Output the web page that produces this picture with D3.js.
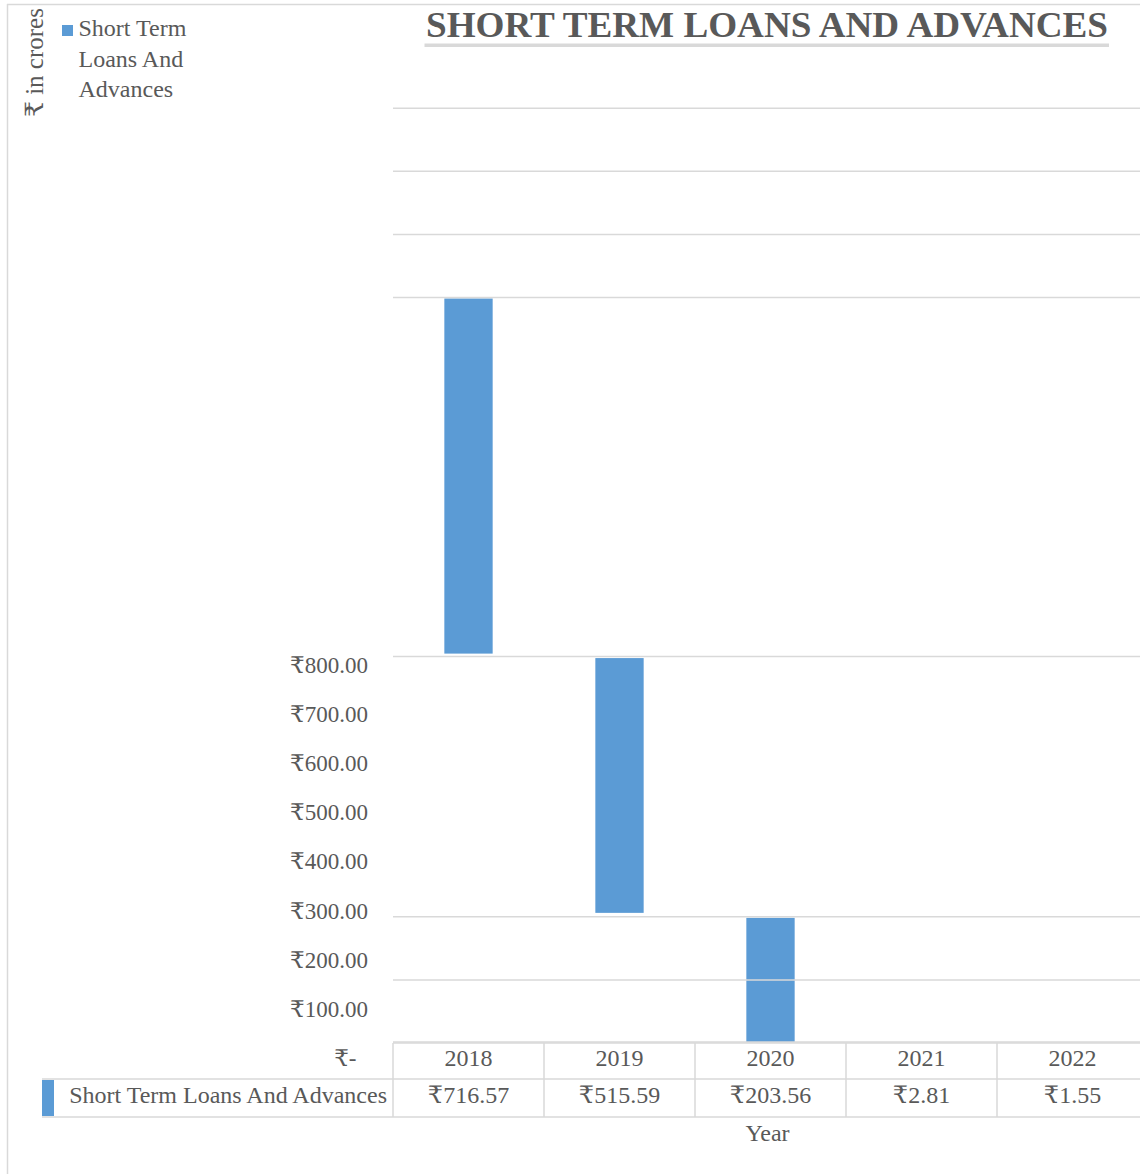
<!DOCTYPE html>
<html>
<head>
<meta charset="utf-8">
<script src="https://cdn.jsdelivr.net/npm/d3@7"></script>
<style>
	body { margin: 0; background: #fff; }
	svg { display: block; font-family: "Liberation Serif", "Times New Roman", "DejaVu Serif", serif; }
	.lbl { fill: #595959; font-size: 24px; }
	.grid, .cell { stroke: #d9d9d9; stroke-width: 1.5; }
</style>
</head>
<body>
<svg id="chart" width="1140" height="1174"></svg>
<script>
var years = ["2018", "2019", "2020", "2021", "2022"];
var values = [716.57, 515.59, 203.56, 2.81, 1.55];
var seriesName = "Short Term Loans And Advances";
// where each bar sits in the picture, in plot units (2021/2022 not visible)
var barLow = [782, 260, 0, null, null];
var barHigh = [1497, 773, 250, null, null];
// gridlines, plot units
var gridAt = [0, 125, 252, 776, 1499, 1626, 1753, 1880];
var tickValues = [0, 100, 200, 300, 400, 500, 600, 700, 800];

var barColor = "#5b9bd5";
var svg = d3.select("#chart");

// columns of the data table, bars centered in them
var col = d3.scaleBand().domain(years).range([393, 1148]);
var bw = col.bandwidth() * 0.32;
var y = d3.scaleLinear().domain([0, 1500]).range([1042, 297]);
var yTick = d3.scaleLinear().domain([0, 800]).range([1058, 665]);

var fmt = function(v) {
	return v === 0 ? "₹-\u00a0\u00a0" : "₹" + d3.format(",.2f")(v);
};

// outer frame
svg.append("line").attr("class", "cell")
	.attr("x1", 7).attr("x2", 1140).attr("y1", 4.5).attr("y2", 4.5);
svg.append("line").attr("class", "cell")
	.attr("x1", 7.5).attr("x2", 7.5).attr("y1", 4).attr("y2", 1174);

// bars
var rows = years.map(function(yr, i) {
	return {year: yr, value: values[i], low: barLow[i], high: barHigh[i]};
});
svg.append("g")
	.selectAll("rect")
	.data(rows.filter(function(d) { return d.low !== null; }))
	.enter().append("rect")
	.attr("x", function(d) { return col(d.year) + (col.bandwidth() - bw) / 2; })
	.attr("y", function(d) { return y(d.high); })
	.attr("width", bw)
	.attr("height", function(d) { return y(d.low) - y(d.high); })
	.attr("fill", barColor);

// gridlines over the bars
svg.append("g")
	.selectAll("line")
	.data(gridAt)
	.enter().append("line")
	.attr("class", "grid")
	.attr("x1", 393).attr("x2", 1140)
	.attr("y1", function(d) { return y(d); })
	.attr("y2", function(d) { return y(d); });

// value axis labels
var ax = svg.append("g")
	.attr("transform", "translate(368,0)")
	.call(d3.axisLeft(yTick).tickValues(tickValues).tickSize(0).tickPadding(0).tickFormat(fmt));
ax.attr("font-family", null).attr("font-size", null);
ax.select(".domain").remove();
ax.selectAll("text").attr("class", "lbl").style("font-size", "23px").attr("fill", "#595959");

// data table
var tTop = 1043, tMid = 1079, tBot = 1117, tRight = col.range()[1];
var tbl = svg.append("g");
tbl.append("line").attr("class", "cell").attr("x1", 393).attr("x2", tRight).attr("y1", tTop).attr("y2", tTop);
tbl.append("line").attr("class", "cell").attr("x1", 42).attr("x2", tRight).attr("y1", tMid).attr("y2", tMid);
tbl.append("line").attr("class", "cell").attr("x1", 42).attr("x2", tRight).attr("y1", tBot).attr("y2", tBot);
tbl.selectAll(".vline")
	.data(years)
	.enter().append("line")
	.attr("class", "cell vline")
	.attr("x1", function(d) { return col(d); })
	.attr("x2", function(d) { return col(d); })
	.attr("y1", tTop).attr("y2", tBot);

tbl.selectAll(".yr")
	.data(rows)
	.enter().append("text")
	.attr("class", "lbl yr")
	.attr("x", function(d) { return col(d.year) + col.bandwidth() / 2; })
	.attr("y", 1066)
	.attr("text-anchor", "middle")
	.text(function(d) { return d.year; });

tbl.selectAll(".val")
	.data(rows)
	.enter().append("text")
	.attr("class", "lbl val")
	.attr("x", function(d) { return col(d.year) + col.bandwidth() / 2; })
	.attr("y", 1103)
	.attr("text-anchor", "middle")
	.text(function(d) { return fmt(d.value); });

tbl.append("rect")
	.attr("x", 42).attr("y", tMid + 1).attr("width", 12).attr("height", tBot - tMid - 2)
	.attr("fill", barColor);
tbl.append("text")
	.attr("class", "lbl")
	.attr("x", 387).attr("y", 1103)
	.attr("text-anchor", "end")
	.text(seriesName);

// x axis title
svg.append("text")
	.attr("class", "lbl")
	.attr("x", (col.range()[0] + col.range()[1]) / 2 - 3).attr("y", 1141)
	.attr("text-anchor", "middle")
	.text("Year");

// y axis title
svg.append("text")
	.attr("class", "lbl")
	.style("font-size", "25px")
	.attr("transform", "translate(43,117) rotate(-90)")
	.text("₹ in crores");

// title
svg.append("text")
	.attr("x", 767).attr("y", 37)
	.attr("text-anchor", "middle")
	.attr("font-size", 36)
	.attr("font-weight", "bold")
	.attr("fill", "#595959")
	.attr("textLength", 682)
	.attr("lengthAdjust", "spacingAndGlyphs")
	.text("SHORT TERM LOANS AND ADVANCES");
svg.append("rect")
	.attr("x", 424.5).attr("y", 43.5).attr("width", 684.5).attr("height", 3.5)
	.attr("fill", "#d9d9d9");

// legend
var lg = svg.append("g");
lg.append("rect").attr("x", 62).attr("y", 25).attr("width", 11).attr("height", 11).attr("fill", barColor);
lg.selectAll("text")
	.data(["Short Term", "Loans And", "Advances"])
	.enter().append("text")
	.attr("class", "lbl")
	.attr("x", 78.5)
	.attr("y", function(d, i) { return 36 + i * 30.5; })
	.text(function(d) { return d; });
</script>
</body>
</html>
